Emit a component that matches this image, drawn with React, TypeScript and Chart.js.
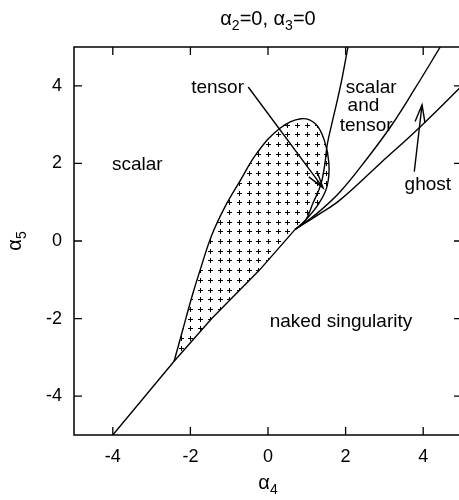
import React, { useEffect, useRef } from 'react';
import { Chart, registerables } from 'chart.js';

Chart.register(...registerables);

type Pt = { x: number; y: number };

const FAMILY = '"Liberation Sans", Arial, Helvetica, sans-serif';

// axis ranges and tick values
const X_RANGE = [-5, 5];
const Y_RANGE = [-5, 5];
const X_TICKS = [-4, -2, 0, 2, 4];
const Y_TICKS = [-4, -2, 0, 2, 4];

// boundary of the naked-singularity region, up to the point where the curves meet
const lowerBoundary: Pt[] = [
  { x: -4.0, y: -5.0 },
  { x: -2.42, y: -3.1 },
  { x: -1.45, y: -2.0 },
  { x: -0.22, y: -0.75 },
  { x: 0.7, y: 0.3 },
];

// outline of the tensor-unstable pocket, from its lower tip round to the meeting point
const tensorArc: Pt[] = [
  { x: -2.42, y: -3.1 },
  { x: -2.2, y: -2.3 },
  { x: -1.95, y: -1.4 },
  { x: -1.75, y: -0.75 },
  { x: -1.45, y: 0.15 },
  { x: -1.1, y: 0.9 },
  { x: -0.72, y: 1.55 },
  { x: -0.29, y: 2.26 },
  { x: 0.3, y: 2.9 },
  { x: 0.85, y: 3.15 },
  { x: 1.22, y: 3.02 },
  { x: 1.45, y: 2.6 },
  { x: 1.57, y: 2.0 },
  { x: 1.52, y: 1.4 },
  { x: 1.3, y: 0.95 },
  { x: 0.95, y: 0.52 },
  { x: 0.7, y: 0.3 },
];

// edge of the "scalar and tensor" wedge
const scalarTensorEdge: Pt[] = [
  { x: 0.7, y: 0.3 },
  { x: 0.95, y: 0.5 },
  { x: 1.16, y: 0.98 },
  { x: 1.36, y: 1.45 },
  { x: 1.46, y: 1.95 },
  { x: 1.53, y: 2.5 },
  { x: 1.64, y: 3.0 },
  { x: 1.78, y: 3.6 },
  { x: 1.91, y: 4.2 },
  { x: 2.06, y: 5.0 },
];

// the two edges of the ghost wedge
const ghostUpper: Pt[] = [
  { x: 0.7, y: 0.3 },
  { x: 1.25, y: 0.7 },
  { x: 1.86, y: 1.27 },
  { x: 2.55, y: 2.12 },
  { x: 3.19, y: 2.99 },
  { x: 3.8, y: 3.95 },
  { x: 4.44, y: 5.0 },
];

const ghostLower: Pt[] = [
  { x: 0.7, y: 0.3 },
  { x: 1.3, y: 0.68 },
  { x: 1.86, y: 1.06 },
  { x: 2.89, y: 2.0 },
  { x: 3.92, y: 2.94 },
  { x: 5.0, y: 4.0 },
];

// spacing of the "+" hatching inside the tensor pocket (data units)
const HATCH_STEP = 0.25;

// region labels, centred on the given data point
const labelText = ['scalar', 'tensor', 'scalar', 'and', 'tensor', 'ghost', 'naked singularity'];
const labelX = [-3.37, -1.3, 2.66, 2.46, 2.53, 4.12, 1.88];
const labelY = [1.96, 3.96, 3.96, 3.48, 2.97, 1.45, -2.08];

// arrows: tail -> head
const arrowFrom: Pt[] = [
  { x: -0.51, y: 3.97 },
  { x: 3.77, y: 1.79 },
];
const arrowTo: Pt[] = [
  { x: 1.42, y: 1.37 },
  { x: 3.97, y: 3.51 },
];

type Part = { t: string; sub?: boolean };
const TITLE: Part[] = [{ t: 'α' }, { t: '2', sub: true }, { t: '=0, α' }, { t: '3', sub: true }, { t: '=0' }];
const X_TITLE: Part[] = [{ t: 'α' }, { t: '4', sub: true }];
const Y_TITLE: Part[] = [{ t: 'α' }, { t: '5', sub: true }];

function drawRich(ctx: CanvasRenderingContext2D, parts: Part[], x: number, y: number, size: number) {
  const main = `${size}px ${FAMILY}`;
  const small = `${Math.round(size * 0.72)}px ${FAMILY}`;
  let w = 0;
  for (const p of parts) {
    ctx.font = p.sub ? small : main;
    w += ctx.measureText(p.t).width;
  }
  let cx = x - w / 2;
  ctx.textAlign = 'left';
  ctx.textBaseline = 'alphabetic';
  for (const p of parts) {
    ctx.font = p.sub ? small : main;
    ctx.fillText(p.t, cx, p.sub ? y + size * 0.25 : y);
    cx += ctx.measureText(p.t).width;
  }
}

const hatchPlugin = {
  id: 'hatch',
  afterDatasetsDraw(chart: any) {
    const { ctx, chartArea } = chart;
    const xs = chart.scales.x;
    const ys = chart.scales.y;
    const line = chart.getDatasetMeta(1).dataset;
    if (line && typeof line.updateControlPoints === 'function') line.updateControlPoints(chartArea, 'x');
    const pts = chart.getDatasetMeta(1).data as any[];
    ctx.save();
    ctx.beginPath();
    ctx.moveTo(pts[0].x, pts[0].y);
    for (let i = 1; i < pts.length; i++) {
      const a = pts[i - 1];
      const b = pts[i];
      if (a.cp2x !== undefined && b.cp1x !== undefined) {
        ctx.bezierCurveTo(a.cp2x, a.cp2y, b.cp1x, b.cp1y, b.x, b.y);
      } else {
        ctx.lineTo(b.x, b.y);
      }
    }
    for (let i = lowerBoundary.length - 1; i >= 0; i--) {
      ctx.lineTo(xs.getPixelForValue(lowerBoundary[i].x), ys.getPixelForValue(lowerBoundary[i].y));
    }
    ctx.closePath();
    ctx.clip();

    ctx.strokeStyle = '#000';
    ctx.lineWidth = 1;
    ctx.beginPath();
    const i0 = Math.ceil(X_RANGE[0] / HATCH_STEP);
    const i1 = Math.floor(X_RANGE[1] / HATCH_STEP);
    const j0 = Math.ceil(Y_RANGE[0] / HATCH_STEP);
    const j1 = Math.floor(Y_RANGE[1] / HATCH_STEP);
    for (let i = i0; i <= i1; i++) {
      const px = Math.round(xs.getPixelForValue(i * HATCH_STEP));
      for (let j = j0; j <= j1; j++) {
        const py = Math.round(ys.getPixelForValue(j * HATCH_STEP));
        ctx.moveTo(px - 2, py + 0.5);
        ctx.lineTo(px + 3, py + 0.5);
        ctx.moveTo(px + 0.5, py - 2);
        ctx.lineTo(px + 0.5, py + 3);
      }
    }
    ctx.stroke();
    ctx.restore();
  },
};

const decorPlugin = {
  id: 'decor',
  afterDraw(chart: any) {
    const { ctx, chartArea } = chart;
    const { left, right, top, bottom } = chartArea;
    const xs = chart.scales.x;
    const ys = chart.scales.y;
    ctx.save();

    // frame with inward ticks on all four sides
    ctx.strokeStyle = '#000';
    ctx.lineWidth = 1.5;
    ctx.strokeRect(left, top, right - left, bottom - top);
    const tl = 8;
    ctx.lineWidth = 1.3;
    ctx.beginPath();
    for (const v of X_TICKS) {
      const px = xs.getPixelForValue(v);
      ctx.moveTo(px, bottom);
      ctx.lineTo(px, bottom - tl);
      ctx.moveTo(px, top);
      ctx.lineTo(px, top + tl);
    }
    for (const v of Y_TICKS) {
      const py = ys.getPixelForValue(v);
      ctx.moveTo(left, py);
      ctx.lineTo(left + tl, py);
      ctx.moveTo(right, py);
      ctx.lineTo(right - tl, py);
    }
    ctx.stroke();

    // arrows
    ctx.lineWidth = 1.4;
    for (let k = 0; k < arrowFrom.length; k++) {
      const x0 = xs.getPixelForValue(arrowFrom[k].x);
      const y0 = ys.getPixelForValue(arrowFrom[k].y);
      const x1 = xs.getPixelForValue(arrowTo[k].x);
      const y1 = ys.getPixelForValue(arrowTo[k].y);
      const ang = Math.atan2(y1 - y0, x1 - x0);
      const hl = 18;
      const ha = (16 * Math.PI) / 180;
      ctx.beginPath();
      ctx.moveTo(x0, y0);
      ctx.lineTo(x1, y1);
      ctx.moveTo(x1 - hl * Math.cos(ang - ha), y1 - hl * Math.sin(ang - ha));
      ctx.lineTo(x1, y1);
      ctx.lineTo(x1 - hl * Math.cos(ang + ha), y1 - hl * Math.sin(ang + ha));
      ctx.stroke();
    }

    // region labels
    ctx.fillStyle = '#000';
    ctx.font = `19px ${FAMILY}`;
    ctx.textAlign = 'center';
    ctx.textBaseline = 'middle';
    for (let k = 0; k < labelText.length; k++) {
      ctx.fillText(labelText[k], xs.getPixelForValue(labelX[k]), ys.getPixelForValue(labelY[k]));
    }

    // title and axis titles
    const cx = (left + right) / 2;
    drawRich(ctx, TITLE, cx, 25, 20);
    drawRich(ctx, X_TITLE, cx, 489, 20);
    ctx.save();
    ctx.translate(21, (top + bottom) / 2);
    ctx.rotate(-Math.PI / 2);
    drawRich(ctx, Y_TITLE, 0, 0, 20);
    ctx.restore();

    ctx.restore();
  },
};

const lineStyle = {
  showLine: true,
  pointRadius: 0,
  pointHoverRadius: 0,
  borderColor: '#000',
  backgroundColor: '#000',
  borderWidth: 1.4,
  fill: false,
  clip: 0,
};

export default function App() {
  const ref = useRef<HTMLCanvasElement>(null);

  useEffect(() => {
    const canvas = ref.current;
    if (!canvas) return;
    const tickFont = { family: FAMILY, size: 18 };
    const chart = new Chart(canvas, {
      type: 'scatter',
      data: {
        datasets: [
          { ...lineStyle, data: lowerBoundary, tension: 0 },
          { ...lineStyle, data: tensorArc, tension: 0.4 },
          { ...lineStyle, data: scalarTensorEdge, tension: 0.4 },
          { ...lineStyle, data: ghostUpper, tension: 0.4 },
          { ...lineStyle, data: ghostLower, tension: 0.4 },
        ] as any,
      },
      options: {
        responsive: false,
        animation: false,
        devicePixelRatio: 1,
        events: [],
        layout: { padding: { left: 0, right: 18, top: 47, bottom: 0 } },
        plugins: {
          legend: { display: false },
          tooltip: { enabled: false },
          title: { display: false },
        },
        scales: {
          x: {
            type: 'linear',
            min: X_RANGE[0],
            max: X_RANGE[1],
            grid: { display: false, drawTicks: false },
            border: { display: false },
            ticks: { font: tickFont, color: '#000', padding: 11, maxRotation: 0 },
            afterBuildTicks: (s: any) => {
              s.ticks = X_TICKS.map((v) => ({ value: v }));
            },
            afterFit: (s: any) => {
              s.height = 65;
            },
          },
          y: {
            type: 'linear',
            min: Y_RANGE[0],
            max: Y_RANGE[1],
            grid: { display: false, drawTicks: false },
            border: { display: false },
            ticks: { font: tickFont, color: '#000', padding: 12 },
            afterBuildTicks: (s: any) => {
              s.ticks = Y_TICKS.map((v) => ({ value: v }));
            },
            afterFit: (s: any) => {
              s.width = 74;
            },
          },
        },
      },
      plugins: [hatchPlugin, decorPlugin],
    } as any);
    return () => chart.destroy();
  }, []);

  return (
    <div
      style={{
        position: 'fixed',
        left: 0,
        top: 0,
        width: 459,
        height: 500,
        overflow: 'hidden',
        background: '#fff',
      }}
    >
      <canvas ref={ref} width={480} height={500} style={{ display: 'block', width: 480, height: 500 }} />
    </div>
  );
}
